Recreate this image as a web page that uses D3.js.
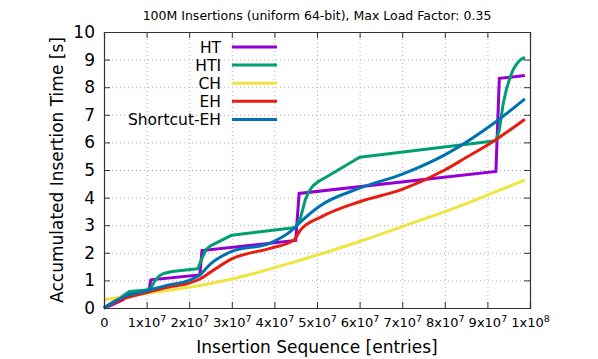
<!DOCTYPE html>
<html>
<head>
<meta charset="utf-8">
<script src="https://cdn.jsdelivr.net/npm/d3@7"></script>
<style>
  body { margin: 0; background: #fff; }
  text { font-family: "DejaVu Sans", sans-serif; fill: #000; }
</style>
</head>
<body>
<script>
// Data (x in entries, y in seconds)
const seriesNames = ["HT", "HTI", "CH", "EH", "Shortcut-EH"];
const seriesColors = ["#9400d3", "#009e73", "#f0e442", "#e51e10", "#0072b2"];

const htPoints = [[0, 0], [2e6, 0.12], [4.5e6, 0.3], [5e6, 0.47], [1.05e7, 0.6], [1.1e7, 1.02], [2.25e7, 1.2], [2.3e7, 2.08],
  [4.5e7, 2.45], [4.58e7, 4.15], [9.2e7, 4.95], [9.28e7, 8.32], [9.88e7, 8.42]];
const htiPoints = [[0, 0], [3e6, 0.3], [5e6, 0.5], [6e6, 0.6], [1.0e7, 0.65], [1.1e7, 0.72], [1.2e7, 1.0], [1.3e7, 1.17],
  [1.4e7, 1.25], [1.6e7, 1.32], [2.2e7, 1.42], [2.3e7, 1.8], [2.4e7, 2.12], [2.5e7, 2.25], [3.0e7, 2.64],
  [4.5e7, 2.92], [4.62e7, 3.3], [4.72e7, 3.9], [4.8e7, 4.2], [4.9e7, 4.42], [5.05e7, 4.6], [5.2e7, 4.73],
  [6.0e7, 5.46], [9.2e7, 6.06], [9.28e7, 6.45], [9.37e7, 7.4], [9.45e7, 7.95], [9.53e7, 8.35], [9.6e7, 8.62],
  [9.69e7, 8.85], [9.78e7, 9.0], [9.88e7, 9.08]];
const chPoints = [[0, 0.3], [4.5e6, 0.41], [1.0e7, 0.53], [2.0e7, 0.75], [2.5e7, 0.89], [3.0e7, 1.05], [4.6e7, 1.73],
  [6.0e7, 2.41], [7.0e7, 2.95], [8.0e7, 3.49], [9.0e7, 4.09], [9.88e7, 4.64]];
const ehPoints = [[0, 0], [4.5e6, 0.33], [1.0e7, 0.56], [1.5e7, 0.75], [2.0e7, 0.9], [2.25e7, 1.05], [2.5e7, 1.3],
  [3.0e7, 1.78], [3.9e7, 2.16], [4.45e7, 2.45], [4.6e7, 2.8], [5.1e7, 3.3], [6.0e7, 3.85], [7.0e7, 4.3],
  [8.0e7, 5.0], [8.5e7, 5.45], [9.2e7, 6.1], [9.88e7, 6.84]];
const sehPoints = [[0, 0], [4.5e6, 0.4], [1.0e7, 0.62], [1.5e7, 0.83], [2.0e7, 1.0], [2.25e7, 1.2], [2.5e7, 1.6],
  [3.0e7, 2.05], [3.9e7, 2.35], [4.4e7, 2.8], [4.6e7, 3.1], [5.05e7, 3.68], [6.0e7, 4.34], [7.0e7, 4.85],
  [8.0e7, 5.55], [9.2e7, 6.75], [9.88e7, 7.58]];

const xTicks = d3.range(0, 11).map(i => i * 1e7);
const xTickLabels = ["0", "1x10^7", "2x10^7", "3x10^7", "4x10^7", "5x10^7", "6x10^7", "7x10^7", "8x10^7", "9x10^7", "1x10^8"];
const yTicks = d3.range(0, 11);

// Layout
const width = 598, height = 359;
const margin = { top: 32, right: 68, bottom: 51, left: 104 };
const w = width - margin.left - margin.right;
const h = height - margin.top - margin.bottom;

const svg = d3.select("body").append("svg")
  .attr("width", width)
  .attr("height", height);

const g = svg.append("g").attr("transform", `translate(${margin.left},${margin.top})`);

const x = d3.scaleLinear().domain([0, 1e8]).range([0, w]);
const y = d3.scaleLinear().domain([0, 10]).range([h, 0]);

// Grid (dotted)
g.append("g")
  .attr("transform", `translate(0,${h})`)
  .call(d3.axisBottom(x).tickValues(xTicks.slice(1, -1)).tickSize(-h).tickFormat(""))
  .call(s => s.select(".domain").remove())
  .selectAll("line").attr("stroke", "#b0b0b0").attr("stroke-dasharray", "1,3");
g.append("g")
  .call(d3.axisLeft(y).tickValues(yTicks.slice(1, -1)).tickSize(-w).tickFormat(""))
  .call(s => s.select(".domain").remove())
  .selectAll("line").attr("stroke", "#b0b0b0").attr("stroke-dasharray", "1,3");

// Lines: HT and HTI are drawn piecewise, the others smoothed
const allPoints = [htPoints, htiPoints, chPoints, ehPoints, sehPoints];
const smoothLine = d3.line().x(d => x(d[0])).y(d => y(d[1])).curve(d3.curveMonotoneX);
const sharpLine = d3.line().x(d => x(d[0])).y(d => y(d[1]));

allPoints.forEach((pts, i) => {
  g.append("path")
    .datum(pts)
    .attr("fill", "none")
    .attr("stroke", seriesColors[i])
    .attr("stroke-width", 3)
    .attr("stroke-linejoin", i === 1 ? "round" : "miter")
    .attr("d", i < 2 ? sharpLine : smoothLine);
});

// Axes (ticks inside, mirrored)
const xAxis = g.append("g")
  .attr("transform", `translate(0,${h})`)
  .call(d3.axisBottom(x).tickValues(xTicks).tickSize(-6).tickPadding(10).tickFormat((d, i) => xTickLabels[i]));
xAxis.selectAll("text")
  .attr("font-size", 13)
  .each(function (d, i) {
    const parts = xTickLabels[i].split("^");
    const t = d3.select(this).text(parts[0]);
    if (parts[1]) {
      t.append("tspan").attr("font-size", 9.5).attr("dy", "-0.5em").text(parts[1]);
    }
  });

const yAxis = g.append("g")
  .call(d3.axisLeft(y).tickValues(yTicks).tickSize(-6).tickPadding(9));
yAxis.selectAll("text").attr("font-size", 17);

g.append("g")
  .call(d3.axisTop(x).tickValues(xTicks).tickSize(-6).tickFormat(""));
g.append("g")
  .attr("transform", `translate(${w},0)`)
  .call(d3.axisRight(y).tickValues(yTicks).tickSize(-6).tickFormat(""));

g.selectAll(".domain").attr("stroke", "#333").attr("stroke-width", 1.2);
g.selectAll(".tick line").filter(function () { return !this.getAttribute("stroke-dasharray"); })
  .attr("stroke", "#333");

// Titles
svg.append("text")
  .attr("x", margin.left + w / 2)
  .attr("y", 20)
  .attr("text-anchor", "middle")
  .attr("font-size", 12.5)
  .text("100M Insertions (uniform 64-bit), Max Load Factor: 0.35");

svg.append("text")
  .attr("x", margin.left + w / 2)
  .attr("y", 353)
  .attr("text-anchor", "middle")
  .attr("font-size", 17)
  .text("Insertion Sequence [entries]");

svg.append("text")
  .attr("transform", `translate(63,${margin.top + h / 2}) rotate(-90)`)
  .attr("text-anchor", "middle")
  .attr("font-size", 17)
  .text("Accumulated Insertion Time [s]");

// Legend
const legend = svg.append("g").attr("transform", "translate(221,47)");
seriesNames.forEach((name, i) => {
  const row = legend.append("g").attr("transform", `translate(0,${i * 18.1})`);
  row.append("text")
    .attr("x", 0)
    .attr("dy", "0.36em")
    .attr("text-anchor", "end")
    .attr("font-size", 15.5)
    .text(name);
  row.append("line")
    .attr("x1", 11).attr("x2", 56)
    .attr("stroke", seriesColors[i])
    .attr("stroke-width", 3);
});
</script>
</body>
</html>
